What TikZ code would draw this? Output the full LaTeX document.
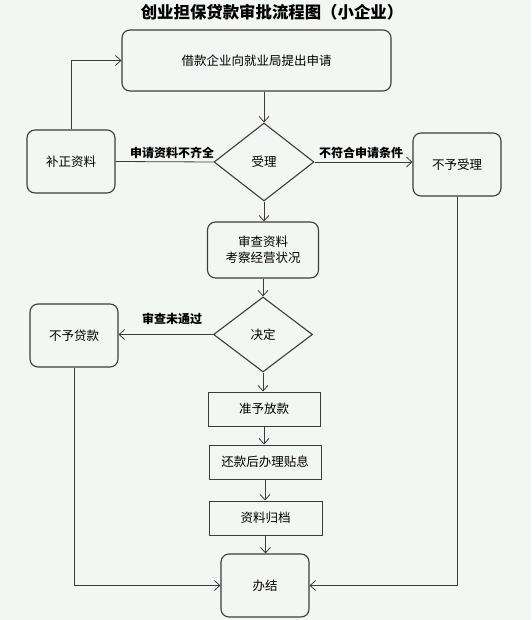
\documentclass[tikz,border=0pt]{standalone}
\usepackage{fontspec}
\newfontfamily\cjk{Noto Sans CJK SC}
\usetikzlibrary{shapes.geometric,arrows.meta}
\definecolor{bg}{HTML}{F3F7F4}
\definecolor{ln}{HTML}{3C3C3C}
\tikzset{
  rbox/.style={draw=ln, line width=1.1pt, rounded corners=8pt, inner sep=0pt, font=\cjk\fontsize{12.5}{16}\selectfont, align=center},
  sbox/.style={draw=ln, line width=1pt, inner sep=0pt, font=\cjk\fontsize{12.5}{16}\selectfont, align=center},
  dia/.style={draw=ln, line width=1.1pt, diamond, inner sep=0pt, font=\cjk\fontsize{12.5}{16}\selectfont},
  arr/.style={draw=ln, line width=0.8pt, -{Straight Barb[length=5.5pt,width=10pt]}},
  lnk/.style={draw=ln, line width=0.8pt},
  lbl/.style={font=\cjk\bfseries\fontsize{12}{14}\selectfont, inner sep=0pt}
}
\begin{document}
\begin{tikzpicture}[x=1pt,y=-1pt]
\fill[bg] (0,0) rectangle (531,620);
\useasboundingbox (0,0) rectangle (531,620);
\node[font=\cjk\bfseries\fontsize{16.4}{18}\selectfont, inner sep=0pt] (title) at (272,12) {创业担保贷款审批流程图（小企业）};
\node[rbox, minimum width=269pt, minimum height=61pt] (top) at (256.5,60.5) {借款企业向就业局提出申请};
\node[dia, minimum width=100pt, minimum height=78pt] (d1) at (264,162) {受理};
\node[rbox, minimum width=88pt, minimum height=63pt] (bz) at (71,161.5) {补正资料};
\node[rbox, minimum width=88pt, minimum height=63pt] (bsl) at (457,164.5) {不予受理};
\node[rbox, minimum width=111pt, minimum height=56pt] (sc) at (263,250) {审查资料\\考察经营状况};
\node[dia, minimum width=99pt, minimum height=75pt] (d2) at (263,334.5) {决定};
\node[rbox, minimum width=88pt, minimum height=63pt] (bdk) at (74,335.5) {不予贷款};
\node[sbox, minimum width=112pt, minimum height=34pt] (zy) at (264,409) {准予放款};
\node[sbox, minimum width=112pt, minimum height=34pt] (hk) at (265,462) {还款后办理贴息};
\node[sbox, minimum width=113pt, minimum height=34pt] (gd) at (265.5,518) {资料归档};
\node[rbox, minimum width=88pt, minimum height=63pt] (bj) at (265,585.5) {办结};

\draw[arr] (d1.north |- top.south) -- (d1.north);
\draw[lnk] (d1.west) -- (bz.east);
\draw[arr] (bz.north) |- (top.west);
\draw[arr] (d1.east) -- (bsl.west |- d1.east);
\draw[arr] (d1.south) -- (sc.north -| d1.south);
\draw[arr] (sc.south) -- (d2.north);
\draw[arr] (d2.west) -- (bdk.east |- d2.west);
\draw[arr] (d2.south) -- (zy.north -| d2.south);
\draw[arr] (zy.south) -- (hk.north -| zy.south);
\draw[arr] (hk.south) -- (gd.north -| hk.south);
\draw[arr] (gd.south) -- (bj.north -| gd.south);
\draw[arr] (bdk.south) |- (bj.west);
\draw[arr] (bsl.south) |- (bj.east);

\node[lbl] (l1) at (172,153) {申请资料不齐全};
\node[lbl] (l2) at (361,153) {不符合申请条件};
\node[lbl] (l3) at (172,319) {审查未通过};
\end{tikzpicture}
\end{document}
